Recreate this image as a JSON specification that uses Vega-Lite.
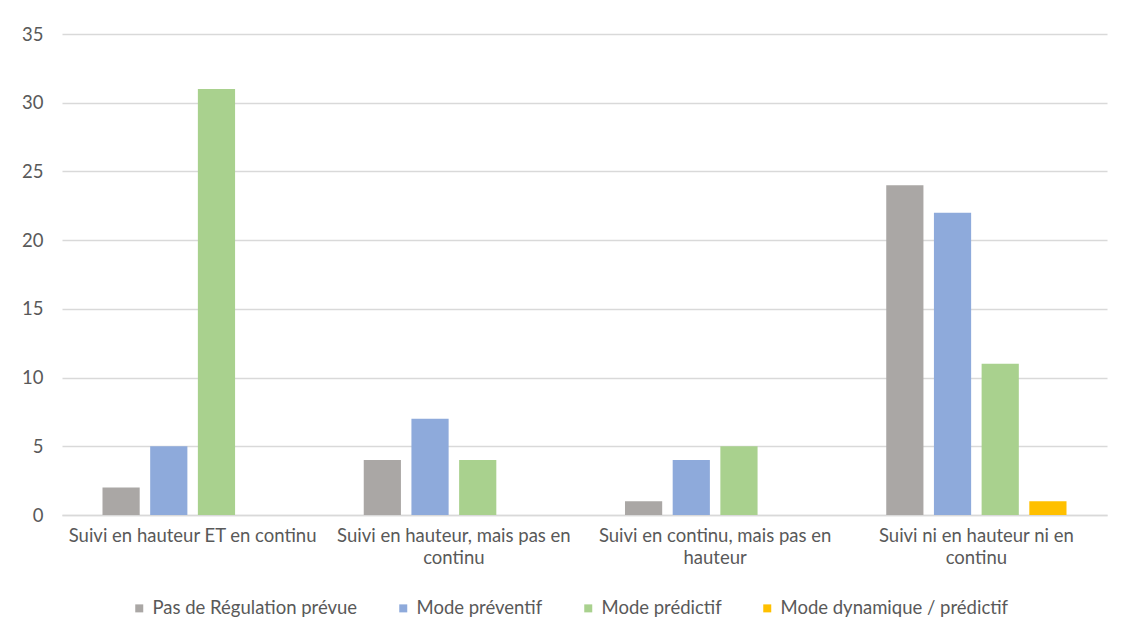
{
  "$schema": "https://vega.github.io/schema/vega-lite/v6.json",
  "width": 1045,
  "height": 481,
  "autosize": {"type": "none"},
  "padding": {"left": 62, "top": 34, "right": 16, "bottom": 122},
  "background": "white",
  "data": {
    "values": [
      {"cat": "Suivi en hauteur ET en continu", "serie": "Pas de Régulation prévue", "n": 2},
      {"cat": "Suivi en hauteur ET en continu", "serie": "Mode préventif", "n": 5},
      {"cat": "Suivi en hauteur ET en continu", "serie": "Mode prédictif", "n": 31},
      {"cat": "Suivi en hauteur ET en continu", "serie": "Mode dynamique / prédictif", "n": 0},
      {"cat": "Suivi en hauteur, mais pas en continu", "serie": "Pas de Régulation prévue", "n": 4},
      {"cat": "Suivi en hauteur, mais pas en continu", "serie": "Mode préventif", "n": 7},
      {"cat": "Suivi en hauteur, mais pas en continu", "serie": "Mode prédictif", "n": 4},
      {"cat": "Suivi en hauteur, mais pas en continu", "serie": "Mode dynamique / prédictif", "n": 0},
      {"cat": "Suivi en continu, mais pas en hauteur", "serie": "Pas de Régulation prévue", "n": 1},
      {"cat": "Suivi en continu, mais pas en hauteur", "serie": "Mode préventif", "n": 4},
      {"cat": "Suivi en continu, mais pas en hauteur", "serie": "Mode prédictif", "n": 5},
      {"cat": "Suivi en continu, mais pas en hauteur", "serie": "Mode dynamique / prédictif", "n": 0},
      {"cat": "Suivi ni en hauteur ni en continu", "serie": "Pas de Régulation prévue", "n": 24},
      {"cat": "Suivi ni en hauteur ni en continu", "serie": "Mode préventif", "n": 22},
      {"cat": "Suivi ni en hauteur ni en continu", "serie": "Mode prédictif", "n": 11},
      {"cat": "Suivi ni en hauteur ni en continu", "serie": "Mode dynamique / prédictif", "n": 1}
    ]
  },
  "mark": {"type": "bar"},
  "encoding": {
    "x": {
      "field": "cat",
      "type": "nominal",
      "sort": ["Suivi en hauteur ET en continu", "Suivi en hauteur, mais pas en continu", "Suivi en continu, mais pas en hauteur", "Suivi ni en hauteur ni en continu"],
      "scale": {"paddingInner": 0.31, "paddingOuter": 0.155},
      "axis": {
        "title": null,
        "labelAngle": 0,
        "labelFont": "Lato",
        "labelFontSize": 18.5,
        "labelColor": "#595959",
        "labelPadding": 11,
        "labelLineHeight": 22,
        "labelLimit": 400,
        "ticks": false,
        "domainColor": "#d9d9d9",
        "domainWidth": 1.5,
        "labelExpr": "datum.value == 'Suivi en hauteur, mais pas en continu' ? ['Suivi en hauteur, mais pas en', 'continu'] : datum.value == 'Suivi en continu, mais pas en hauteur' ? ['Suivi en continu, mais pas en', 'hauteur'] : datum.value == 'Suivi ni en hauteur ni en continu' ? ['Suivi ni en hauteur ni en', 'continu'] : datum.value"
      }
    },
    "xOffset": {
      "field": "serie",
      "sort": ["Pas de Régulation prévue", "Mode préventif", "Mode prédictif", "Mode dynamique / prédictif"],
      "scale": {"paddingInner": 0.22, "paddingOuter": 0}
    },
    "y": {
      "field": "n",
      "type": "quantitative",
      "scale": {"domain": [0, 35], "nice": false},
      "axis": {
        "title": null,
        "values": [0, 5, 10, 15, 20, 25, 30, 35],
        "labelFont": "Lato",
        "labelFontSize": 18.5,
        "labelColor": "#595959",
        "labelPadding": 19,
        "ticks": false,
        "domain": false,
        "gridColor": "#d9d9d9",
        "gridWidth": 1.5
      }
    },
    "color": {
      "field": "serie",
      "type": "nominal",
      "scale": {
        "domain": ["Pas de Régulation prévue", "Mode préventif", "Mode prédictif", "Mode dynamique / prédictif"],
        "range": ["#aaa7a5", "#8eaadb", "#a9d18e", "#ffc000"]
      },
      "legend": {
        "title": null,
        "orient": "none",
        "direction": "horizontal",
        "legendX": 68,
        "legendY": 565,
        "symbolType": "square",
        "symbolSize": 64,
        "symbolStrokeWidth": 0,
        "labelFont": "Lato",
        "labelFontSize": 18.5,
        "labelColor": "#595959",
        "labelOffset": 4,
        "columnPadding": 36,
        "labelLimit": 400
      }
    }
  },
  "config": {"view": {"stroke": null}}
}
